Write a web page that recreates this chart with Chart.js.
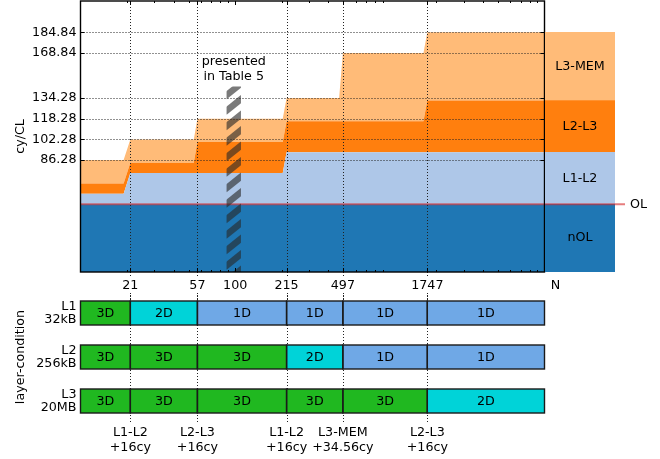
<!DOCTYPE html>
<html>
<head>
<meta charset="utf-8">
<script src="https://cdn.jsdelivr.net/npm/chart.js@4.4.1/dist/chart.umd.min.js"></script>
<style>
  body { margin: 0; background: #fff; }
  #wrap { position: relative; width: 660px; height: 459px; }
  canvas { position: absolute; }
</style>
</head>
<body>
<div id="wrap">
  <canvas id="main" width="546" height="300" style="left:0;top:0"></canvas>
  <canvas id="side" width="115" height="300" style="left:545px;top:0"></canvas>
  <canvas id="layers" width="546" height="171" style="left:0;top:288px"></canvas>
</div>
<script>
// regions of N where the layer conditions stay the same
const regionFrom = [10, 21, 57, 215, 497, 1747];
const regionTo = [19, 54, 203, 470, 1650, 10000];

// cycles per cache line for every part, per region
const nOL = [52.28, 52.28, 52.28, 52.28, 52.28, 52.28];
const l1l2 = [8, 24, 24, 40, 40, 40];
const l2l3 = [8, 8, 24, 24, 24, 40];
const l3mem = [18, 18, 18, 18, 52.56, 52.56];

const partNames = ['nOL', 'L1-L2', 'L2-L3', 'L3-MEM'];
const partColors = ['#1f77b4', '#aec7e8', '#ff7f0e', '#ffbb78'];

const xTicks = [21, 57, 100, 215, 497, 1747];
const xTickLabels = ['21', '57', '100', '215', '497', '1747'];
const xGrid = [21, 57, 215, 497, 1747];
const xMinor = [20, 30, 40, 50, 60, 70, 80, 90, 200, 300, 400, 500, 600, 700, 800, 900,
                2000, 3000, 4000, 5000, 6000, 7000, 8000, 9000];
const yTicks = [86.28, 102.28, 118.28, 134.28, 168.84, 184.84];
const yTickLabels = ['86.28', '102.28', '118.28', '134.28', '168.84', '184.84'];

// hatched band "presented in Table 5"
const tableN = [88, 109];
const tableTop = 143;

// layer conditions
const rowLabels = [['L1', '32kB'], ['L2', '256kB'], ['L3', '20MB']];
const segBounds = [10, 21, 57, 215, 497, 1747, 10000];
const rowL1 = ['3D', '2D', '1D', '1D', '1D', '1D'];
const rowL2 = ['3D', '3D', '3D', '2D', '1D', '1D'];
const rowL3 = ['3D', '3D', '3D', '3D', '3D', '2D'];
const kindColor = { '3D': '#20b820', '2D': '#00d3d8', '1D': '#6fa8e6' };

const changeN = [21, 57, 215, 497, 1747];
const changeLabels = [['L1-L2', '+16cy'], ['L2-L3', '+16cy'], ['L1-L2', '+16cy'],
                      ['L3-MEM', '+34.56cy'], ['L2-L3', '+16cy']];

const FONT = 'DejaVu Sans';
Chart.defaults.font.family = FONT;
Chart.defaults.font.size = 12.7;
Chart.defaults.color = '#000';

const OL_COLOR = 'rgba(214,39,40,0.6)';
const YMAX = 209;

function stepPoints(vals) {
    const pts = [];
    vals.forEach((v, i) => {
        pts.push({ x: regionFrom[i], y: v });
        pts.push({ x: regionTo[i], y: v });
    });
    return pts;
}

function line(ctx, x1, y1, x2, y2) {
    ctx.beginPath();
    ctx.moveTo(x1, y1);
    ctx.lineTo(x2, y2);
    ctx.stroke();
}

function noPad(s) {
    s.paddingTop = 0;
    s.paddingBottom = 0;
    s.paddingLeft = 0;
    s.paddingRight = 0;
}

const mainDecor = {
    id: 'mainDecor',
    afterDatasetsDraw(chart) {
        const ctx = chart.ctx;
        const a = chart.chartArea;
        const xs = chart.scales.x, ys = chart.scales.y;
        ctx.save();
        // dotted grid on top of the areas
        ctx.strokeStyle = '#222';
        ctx.lineWidth = 1;
        ctx.setLineDash([1, 2]);
        yTicks.forEach(v => {
            const y = Math.round(ys.getPixelForValue(v)) + 0.5;
            line(ctx, a.left, y, a.right, y);
        });
        xGrid.forEach(v => {
            const x = Math.round(xs.getPixelForValue(v)) + 0.5;
            line(ctx, x, a.top, x, a.bottom);
            line(ctx, x, a.bottom, x, a.bottom + 6);
            line(ctx, x, a.bottom + 21, x, chart.height);
        });
        ctx.setLineDash([]);

        // hatched band
        const hx1 = xs.getPixelForValue(tableN[0]);
        const hx2 = xs.getPixelForValue(tableN[1]);
        const hy = ys.getPixelForValue(tableTop);
        ctx.save();
        ctx.beginPath();
        ctx.rect(hx1, hy, hx2 - hx1, a.bottom - hy);
        ctx.clip();
        ctx.strokeStyle = 'rgba(40,40,40,0.62)';
        ctx.lineWidth = 6.5;
        const w = hx2 - hx1;
        for (let y = hy - 20; y < a.bottom + 30; y += 15.5) {
            line(ctx, hx1 - 2, y + (w + 4) * 0.8, hx2 + 2, y);
        }
        ctx.restore();

        // tick marks
        ctx.strokeStyle = '#000';
        ctx.lineWidth = 1;
        xTicks.forEach(v => {
            const x = Math.round(xs.getPixelForValue(v)) + 0.5;
            line(ctx, x, a.bottom, x, a.bottom - 4);
            line(ctx, x, a.top, x, a.top + 4);
        });
        xMinor.forEach(v => {
            const x = Math.round(xs.getPixelForValue(v)) + 0.5;
            line(ctx, x, a.bottom, x, a.bottom - 2);
            line(ctx, x, a.top, x, a.top + 2);
        });
        yTicks.forEach(v => {
            const y = Math.round(ys.getPixelForValue(v)) + 0.5;
            line(ctx, a.left, y, a.left + 4, y);
            line(ctx, a.right, y, a.right - 4, y);
        });

        // frame
        ctx.lineWidth = 1.4;
        ctx.strokeRect(a.left, a.top, a.right - a.left, a.bottom - a.top);

        // label of the band
        const cx = (hx1 + hx2) / 2;
        ctx.fillStyle = '#000';
        ctx.font = '12.7px "' + FONT + '"';
        ctx.textAlign = 'center';
        ctx.textBaseline = 'middle';
        ctx.fillText('presented', cx, 62);
        ctx.fillText('in Table 5', cx, 77);
        ctx.restore();
    }
};

const parts = [nOL, l1l2, l2l3, l3mem];

new Chart(document.getElementById('main'), {
    type: 'line',
    data: {
        datasets: parts.map((vals, i) => ({
            label: partNames[i],
            data: stepPoints(vals),
            backgroundColor: partColors[i],
            borderColor: i === 0 ? OL_COLOR : 'transparent',
            borderWidth: i === 0 ? 2 : 0,
            pointRadius: 0,
            tension: 0,
            fill: i === 0 ? 'origin' : '-1'
        }))
    },
    options: {
        responsive: false,
        animation: false,
        layout: { padding: { top: 1, right: 1.5, left: 0, bottom: 0 } },
        plugins: { legend: { display: false }, tooltip: { enabled: false } },
        scales: {
            x: {
                type: 'logarithmic',
                min: 10,
                max: 10000,
                grid: { display: false, drawTicks: false },
                border: { display: false },
                afterBuildTicks: s => { s.ticks = xTicks.map(v => ({ value: v })); },
                afterFit: s => { s.height = 28; noPad(s); },
                ticks: { autoSkip: false, maxRotation: 0, padding: 6, callback: (v, i) => xTickLabels[i] }
            },
            y: {
                type: 'linear',
                stacked: true,
                min: 0,
                max: YMAX,
                grid: { display: false, drawTicks: false },
                border: { display: false },
                afterBuildTicks: s => { s.ticks = yTicks.map(v => ({ value: v })); },
                afterFit: s => { s.width = 80.5; noPad(s); },
                ticks: { padding: 4, callback: (v, i) => yTickLabels[i] },
                title: { display: true, text: 'cy/CL', padding: { top: 13, bottom: 0 } }
            }
        }
    },
    plugins: [mainDecor]
});

// blocks on the right side: the parts for the largest N
const last = parts.map(p => p[p.length - 1]);

const sideDecor = {
    id: 'sideDecor',
    afterDatasetsDraw(chart) {
        const ctx = chart.ctx;
        const a = chart.chartArea;
        ctx.save();
        ctx.fillStyle = '#000';
        ctx.font = '12.7px "' + FONT + '"';
        ctx.textAlign = 'center';
        ctx.textBaseline = 'middle';
        chart.data.datasets.forEach((ds, i) => {
            const el = chart.getDatasetMeta(i).data[0];
            ctx.fillText(ds.label, (a.left + a.right) / 2, (el.y + el.base) / 2);
        });
        const y = chart.scales.y.getPixelForValue(last[0]);
        ctx.strokeStyle = OL_COLOR;
        ctx.lineWidth = 2;
        line(ctx, a.left, y, a.left + 80, y);
        ctx.textAlign = 'left';
        ctx.fillText('OL', a.left + 85, y);
        ctx.textAlign = 'center';
        ctx.fillText('N', a.left + 10.5, 286);
        ctx.restore();
    }
};

new Chart(document.getElementById('side'), {
    type: 'bar',
    data: {
        labels: [''],
        datasets: last.map((v, i) => ({
            label: partNames[i],
            data: [v],
            backgroundColor: partColors[i],
            borderWidth: 0,
            barPercentage: 1,
            categoryPercentage: 1
        }))
    },
    options: {
        responsive: false,
        animation: false,
        layout: { padding: { top: 1, right: 45, left: 0, bottom: 28 } },
        plugins: { legend: { display: false }, tooltip: { enabled: false } },
        scales: {
            x: { display: false, stacked: true },
            y: { display: false, stacked: true, min: 0, max: YMAX }
        }
    },
    plugins: [sideDecor]
});

// layer-condition rows
const rows = [rowL1, rowL2, rowL3];

const layerDecor = {
    id: 'layerDecor',
    beforeDatasetsDraw(chart) {
        const ctx = chart.ctx;
        const a = chart.chartArea;
        ctx.save();
        ctx.strokeStyle = '#222';
        ctx.lineWidth = 1;
        ctx.setLineDash([1, 2]);
        changeN.forEach(v => {
            const x = Math.round(chart.scales.x.getPixelForValue(v)) + 0.5;
            line(ctx, x, a.top + 4, x, a.bottom - 1);
        });
        ctx.restore();
    },
    afterDatasetsDraw(chart) {
        const ctx = chart.ctx;
        ctx.save();
        ctx.strokeStyle = '#1a1a1a';
        ctx.lineWidth = 1.4;
        ctx.fillStyle = '#000';
        ctx.font = '12.7px "' + FONT + '"';
        ctx.textAlign = 'center';
        ctx.textBaseline = 'middle';
        chart.data.datasets.forEach((ds, s) => {
            chart.getDatasetMeta(s).data.forEach((el, r) => {
                const x0 = Math.min(el.x, el.base), x1 = Math.max(el.x, el.base);
                ctx.strokeRect(x0, el.y - el.height / 2, x1 - x0, el.height);
                ctx.fillText(rows[r][s], (x0 + x1) / 2, el.y + 0.5);
            });
        });
        ctx.restore();
    }
};

new Chart(document.getElementById('layers'), {
    type: 'bar',
    data: {
        labels: rowLabels,
        datasets: rowL1.map((_, s) => ({
            data: rows.map(() => [segBounds[s], segBounds[s + 1]]),
            backgroundColor: rows.map(r => kindColor[r[s]]),
            borderWidth: 0,
            barPercentage: 24 / 44,
            categoryPercentage: 1,
            grouped: false
        }))
    },
    options: {
        indexAxis: 'y',
        responsive: false,
        animation: false,
        layout: { padding: { top: 3, right: 1.5, left: 0, bottom: 0 } },
        plugins: { legend: { display: false }, tooltip: { enabled: false } },
        scales: {
            x: {
                type: 'logarithmic',
                min: 10,
                max: 10000,
                grid: { display: false, drawTicks: false },
                border: { display: false },
                afterBuildTicks: s => { s.ticks = changeN.map(v => ({ value: v })); },
                afterFit: s => { s.height = 36; noPad(s); },
                ticks: {
                    autoSkip: false, maxRotation: 0, padding: 2,
                    font: { lineHeight: 1.18 },
                    callback: (v, i) => changeLabels[i]
                }
            },
            y: {
                grid: { display: false, drawTicks: false },
                border: { display: false },
                afterFit: s => { s.width = 80.5; noPad(s); },
                ticks: { padding: 4, font: { lineHeight: 0.98 } },
                title: { display: true, text: 'layer-condition', padding: { top: 13, bottom: 0 } }
            }
        }
    },
    plugins: [layerDecor]
});
</script>
</body>
</html>
